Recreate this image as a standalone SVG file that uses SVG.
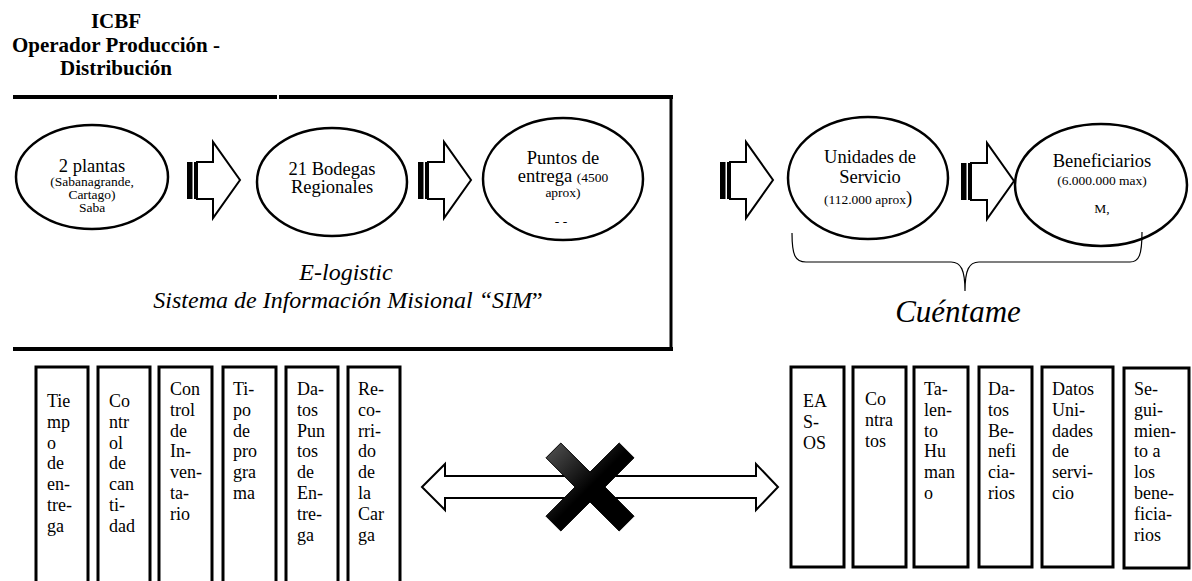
<svg xmlns="http://www.w3.org/2000/svg" width="1192" height="581" viewBox="0 0 1192 581">
<style>
text{font-family:"Liberation Serif","Times New Roman",serif;fill:#000}
.t{font-size:18.5px;text-anchor:middle}
.s{font-size:13.5px}
.sc{font-size:13.5px;text-anchor:middle}
.b{font-size:18px}
.ell{fill:#fff;stroke:#000;stroke-width:2.5}
.box{fill:#fff;stroke:#000;stroke-width:3}
.ttl{font-size:21px;font-weight:bold;text-anchor:middle}
.it{font-style:italic;text-anchor:middle}
</style>
<defs>
<g id="sarrow">
<rect x="0" y="-18" width="5.5" height="37" fill="#000"/>
<rect x="7" y="-18" width="2.2" height="37" fill="#000"/>
<polygon points="10,-18 26,-18 26,-38 53,0 26,38 26,19 10,19" fill="#fff" stroke="#000" stroke-width="2"/>
</g>
<linearGradient id="xg" x1="0" y1="0" x2="1" y2="1">
<stop offset="0" stop-color="#555"/>
<stop offset="0.5" stop-color="#000"/>
<stop offset="1" stop-color="#000"/>
</linearGradient>
</defs>
<rect width="1192" height="581" fill="#fff"/>

<g id="title">
<text class="ttl" x="116" y="28">ICBF</text>
<text class="ttl" x="116" y="52">Operador Producción -</text>
<text class="ttl" x="116" y="75">Distribución</text>
</g>

<g id="elogistic-frame">
<line x1="13" y1="97" x2="277" y2="97" stroke="#000" stroke-width="4"/>
<line x1="279" y1="97" x2="673" y2="97" stroke="#000" stroke-width="4"/>
<line x1="671" y1="95" x2="671" y2="351" stroke="#000" stroke-width="3"/>
<line x1="13" y1="349" x2="673" y2="349" stroke="#000" stroke-width="4"/>
<text class="it" x="346" y="280" font-size="24">E-logistic</text>
<text class="it" x="348" y="308" font-size="24">Sistema de Información Misional “SIM<tspan font-style="normal">”</tspan></text>
</g>

<g id="connectors">
<use href="#sarrow" transform="translate(187,180)"/>
<use href="#sarrow" transform="translate(418,180)"/>
<use href="#sarrow" transform="translate(720,180)"/>
<use href="#sarrow" transform="translate(961,181)"/>
<polygon points="422,487 445,464 445,476 756,476 756,464 778,487 756,510 756,498 445,498 445,510" fill="#fff" stroke="#000" stroke-width="2"/>
<polygon transform="translate(590,487)" points="-44,-29.2 -29.2,-44 0,-14.9 29.2,-44 44,-29.2 14.9,0 44,29.2 29.2,44 0,14.9 -29.2,44 -44,29.2 -14.9,0" fill="url(#xg)" stroke="#000" stroke-width="1"/>
</g>

<g id="n-plantas">
<ellipse class="ell" cx="92" cy="177" rx="76" ry="52"/>
<text class="t" x="92" y="172">2 plantas</text>
<text class="sc" x="92" y="186">(Sabanagrande,</text>
<text class="sc" x="92" y="199">Cartago)</text>
<text class="sc" x="92" y="212">Saba</text>
</g>

<g id="n-bodegas">
<ellipse class="ell" cx="332" cy="182" rx="75" ry="54"/>
<text class="t" x="332" y="175">21 Bodegas</text>
<text class="t" x="332" y="193">Regionales</text>
</g>

<g id="n-puntos">
<ellipse class="ell" cx="563" cy="179" rx="80" ry="61"/>
<text class="t" x="563" y="164">Puntos de</text>
<text class="t" x="563" y="182">entrega <tspan font-size="13.5">(4500</tspan></text>
<text class="sc" x="563" y="197">aprox)</text>
<text class="sc" x="561" y="226" font-size="9">- -</text>
</g>

<g id="n-unidades">
<ellipse class="ell" cx="868" cy="178" rx="80" ry="61"/>
<text class="t" x="870" y="163">Unidades de</text>
<text class="t" x="870" y="183">Servicio</text>
<text class="sc" x="868" y="204">(112.000 aprox<tspan font-size="18.5">)</tspan></text>
</g>

<g id="n-beneficiarios">
<ellipse class="ell" cx="1101" cy="185" rx="86" ry="61"/>
<text class="t" x="1102" y="167">Beneficiarios</text>
<text class="sc" x="1102" y="185">(6.000.000 max)</text>
<text class="sc" x="1102" y="213">M,</text>
</g>

<g id="cuentame">
<path d="M792 233 C792 255 795 262 806 262 L951 262 C961 262 965 270 965 291 C965 270 969 262 979 262 L1130 262 C1139 262 1142 255 1142 232" fill="none" stroke="#000" stroke-width="1.2"/>
<text class="it" x="958" y="322" font-size="31">Cuéntame</text>
</g>

<g id="l1"><rect class="box" x="36" y="367" width="52" height="230"/>
<text class="b" x="47" y="407"><tspan x="47">Tie</tspan><tspan x="47" dy="20.8">mp</tspan><tspan x="47" dy="20.8">o</tspan><tspan x="47" dy="20.8">de</tspan><tspan x="47" dy="20.8">en-</tspan><tspan x="47" dy="20.8">tre-</tspan><tspan x="47" dy="20.8">ga</tspan></text></g>
<g id="l2"><rect class="box" x="98" y="367" width="52" height="230"/>
<text class="b" x="109" y="407"><tspan x="109">Co</tspan><tspan x="109" dy="20.8">ntr</tspan><tspan x="109" dy="20.8">ol</tspan><tspan x="109" dy="20.8">de</tspan><tspan x="109" dy="20.8">can</tspan><tspan x="109" dy="20.8">ti-</tspan><tspan x="109" dy="20.8">dad</tspan></text></g>
<g id="l3"><rect class="box" x="159" y="367" width="53" height="230"/>
<text class="b" x="170" y="395"><tspan x="170">Con</tspan><tspan x="170" dy="20.8">trol</tspan><tspan x="170" dy="20.8">de</tspan><tspan x="170" dy="20.8">In-</tspan><tspan x="170" dy="20.8">ven-</tspan><tspan x="170" dy="20.8">ta-</tspan><tspan x="170" dy="20.8">rio</tspan></text></g>
<g id="l4"><rect class="box" x="223" y="367" width="53" height="230"/>
<text class="b" x="233" y="395"><tspan x="233">Ti-</tspan><tspan x="233" dy="20.8">po</tspan><tspan x="233" dy="20.8">de</tspan><tspan x="233" dy="20.8">pro</tspan><tspan x="233" dy="20.8">gra</tspan><tspan x="233" dy="20.8">ma</tspan></text></g>
<g id="l5"><rect class="box" x="286" y="367" width="52" height="230"/>
<text class="b" x="297" y="395"><tspan x="297">Da-</tspan><tspan x="297" dy="20.8">tos</tspan><tspan x="297" dy="20.8">Pun</tspan><tspan x="297" dy="20.8">tos</tspan><tspan x="297" dy="20.8">de</tspan><tspan x="297" dy="20.8">En-</tspan><tspan x="297" dy="20.8">tre-</tspan><tspan x="297" dy="20.8">ga</tspan></text></g>
<g id="l6"><rect class="box" x="348" y="367" width="52" height="230"/>
<text class="b" x="358" y="395"><tspan x="358">Re-</tspan><tspan x="358" dy="20.8">co-</tspan><tspan x="358" dy="20.8">rri-</tspan><tspan x="358" dy="20.8">do</tspan><tspan x="358" dy="20.8">de</tspan><tspan x="358" dy="20.8">la</tspan><tspan x="358" dy="20.8">Car</tspan><tspan x="358" dy="20.8">ga</tspan></text></g>

<g id="r1"><rect class="box" x="791" y="367" width="53" height="200"/>
<text class="b" x="803" y="407"><tspan x="803">EA</tspan><tspan x="803" dy="20.8">S-</tspan><tspan x="803" dy="20.8">OS</tspan></text></g>
<g id="r2"><rect class="box" x="853" y="367" width="53" height="200"/>
<text class="b" x="865" y="405"><tspan x="865">Co</tspan><tspan x="865" dy="20.8">ntra</tspan><tspan x="865" dy="20.8">tos</tspan></text></g>
<g id="r3"><rect class="box" x="914" y="367" width="54" height="200"/>
<text class="b" x="924" y="395"><tspan x="924">Ta-</tspan><tspan x="924" dy="20.8">len-</tspan><tspan x="924" dy="20.8">to</tspan><tspan x="924" dy="20.8">Hu</tspan><tspan x="924" dy="20.8">man</tspan><tspan x="924" dy="20.8">o</tspan></text></g>
<g id="r4"><rect class="box" x="979" y="367" width="53" height="200"/>
<text class="b" x="988" y="395"><tspan x="988">Da-</tspan><tspan x="988" dy="20.8">tos</tspan><tspan x="988" dy="20.8">Be-</tspan><tspan x="988" dy="20.8">nefi</tspan><tspan x="988" dy="20.8">cia-</tspan><tspan x="988" dy="20.8">rios</tspan></text></g>
<g id="r5"><rect class="box" x="1042" y="367" width="71" height="200"/>
<text class="b" x="1052" y="395"><tspan x="1052">Datos</tspan><tspan x="1052" dy="20.8">Uni-</tspan><tspan x="1052" dy="20.8">dades</tspan><tspan x="1052" dy="20.8">de</tspan><tspan x="1052" dy="20.8">servi-</tspan><tspan x="1052" dy="20.8">cio</tspan></text></g>
<g id="r6"><rect class="box" x="1124" y="368" width="65" height="200"/>
<text class="b" x="1134" y="395"><tspan x="1134">Se-</tspan><tspan x="1134" dy="20.8">gui-</tspan><tspan x="1134" dy="20.8">mien-</tspan><tspan x="1134" dy="20.8">to a</tspan><tspan x="1134" dy="20.8">los</tspan><tspan x="1134" dy="20.8">bene-</tspan><tspan x="1134" dy="20.8">ficia-</tspan><tspan x="1134" dy="20.8">rios</tspan></text></g>
</svg>
